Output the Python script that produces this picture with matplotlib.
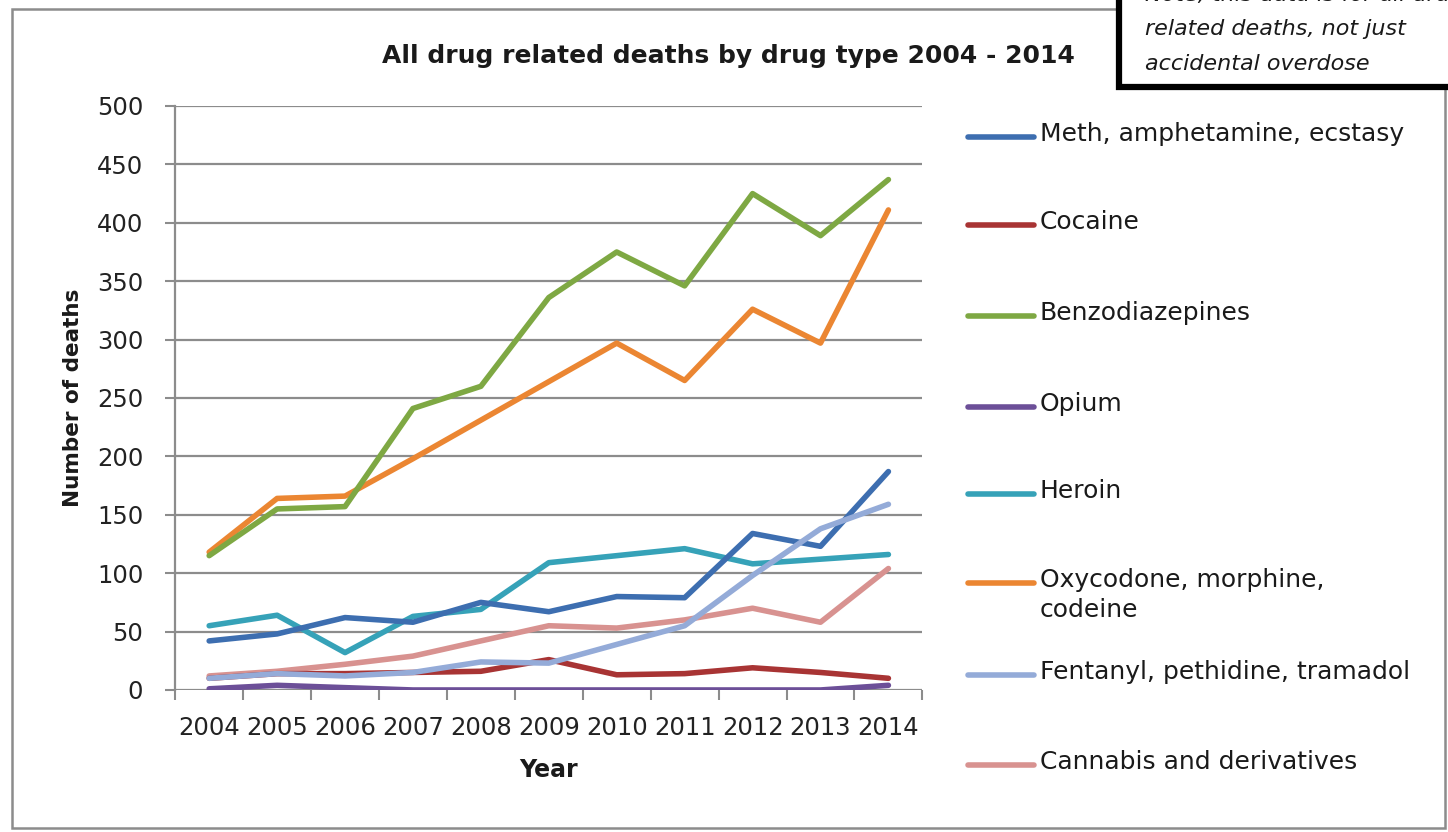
import numpy as np
import matplotlib
matplotlib.use("Agg")
import matplotlib.pyplot as plt
from matplotlib.lines import Line2D
from matplotlib.patches import Rectangle

plt.rcParams['font.family'] = ['DejaVu Sans']

years = list(range(2004, 2015))

meth = [42, 48, 62, 58, 75, 67, 80, 79, 134, 123, 187]
cocaine = [10, 14, 14, 15, 16, 26, 13, 14, 19, 15, 10]
benzo = [115, 155, 157, 241, 260, 336, 375, 346, 425, 389, 437]
opium = [1, 4, 2, 0, 0, 0, 0, 0, 0, 0, 4]
heroin = [55, 64, 32, 63, 69, 109, 115, 121, 108, 112, 116]
oxy = [118, 164, 166, 198, 231, 264, 297, 265, 326, 297, 411]
fentanyl = [10, 14, 12, 15, 24, 23, 39, 55, 98, 138, 159]
cannabis = [12, 16, 22, 29, 42, 55, 53, 60, 70, 58, 104]

labels = ["Meth, amphetamine, ecstasy", "Cocaine", "Benzodiazepines", "Opium",
          "Heroin", "Oxycodone, morphine,\ncodeine", "Fentanyl, pethidine, tramadol",
          "Cannabis and derivatives"]
colors = ["#3d6eb0", "#a83434", "#7ea843", "#6c4f98",
          "#36a2b8", "#eb8632", "#94abd8", "#d89290"]
series = [meth, cocaine, benzo, opium, heroin, oxy, fentanyl, cannabis]

# draw order: later series on top
order = [4, 0, 7, 1, 6, 3, 5, 2]

fig = plt.figure(figsize=(14.48, 8.32), dpi=100)
ax = fig.add_axes([0.121, 0.1707, 0.516, 0.7019])

for i in order:
    ax.plot(years, series[i], color=colors[i], lw=4.0, solid_capstyle='round',
            solid_joinstyle='round', zorder=3)

ax.set_xlim(2003.5, 2014.5)
ax.set_ylim(0, 500)
ax.set_yticks(np.arange(0, 501, 50))
ax.set_xticks(years)
ax.set_xticks(np.arange(2003.5, 2015, 1), minor=True)
ax.tick_params(axis='x', which='major', length=0, labelsize=17.5, pad=19, colors='#222222')
ax.tick_params(axis='x', which='minor', length=7, width=1.5, color='#8c8c8c')
ax.tick_params(axis='y', length=7, width=1.5, labelsize=17.5, pad=16, colors='#222222')
ax.tick_params(axis='y', color='#8c8c8c')
ax.grid(axis='y', color='#8c8c8c', lw=1.6, zorder=0)
for s in ['top', 'right', 'bottom']:
    ax.spines[s].set_visible(False)
ax.spines['left'].set_color('#8c8c8c')
ax.spines['left'].set_linewidth(1.6)

ax.set_title("All drug related deaths by drug type 2004 - 2014", fontsize=18,
             fontweight='bold', pad=31, x=0.74, color='#1a1a1a')
ax.set_ylabel("Number of deaths", fontsize=15.5, fontweight='bold', labelpad=10, color='#1a1a1a')
ax.set_xlabel("Year", fontsize=17, fontweight='bold', labelpad=13, color='#1a1a1a')

# legend built by hand so every handle sits on the first text line
leg_y = [137, 225, 316, 407, 494, 583, 675, 765]
for i, yp in enumerate(leg_y):
    yf = 1 - yp / 832
    fig.add_artist(Line2D([968 / 1448, 1034 / 1448], [yf, yf], transform=fig.transFigure,
                          color=colors[i], lw=4.0, solid_capstyle='round'))
    fig.text(1040 / 1448, yf + 0.0175, labels[i], fontsize=18, va='top', ha='left',
             color='#1a1a1a', linespacing=1.3)

# outer chart frame
fig.add_artist(Rectangle((12 / 1448, 1 - 828 / 832), 1433 / 1448, 819 / 832,
                         transform=fig.transFigure, fill=False, ec='#8c8c8c', lw=1.8))

# note box in the corner
fig.add_artist(Rectangle((1119 / 1448, 1 - 87 / 832), 400 / 1448, 120 / 832,
                         transform=fig.transFigure, fc='white', ec='black', lw=4.5, zorder=5))
fig.text(1145 / 1448, 1 - (-15) / 832,
         "Note, this data is for all drug\nrelated deaths, not just\naccidental overdose",
         fontsize=16, style='italic', va='top', ha='left', color='#1a1a1a',
         linespacing=1.9, zorder=6)

fig.savefig("out.png", dpi=100, facecolor='white')
